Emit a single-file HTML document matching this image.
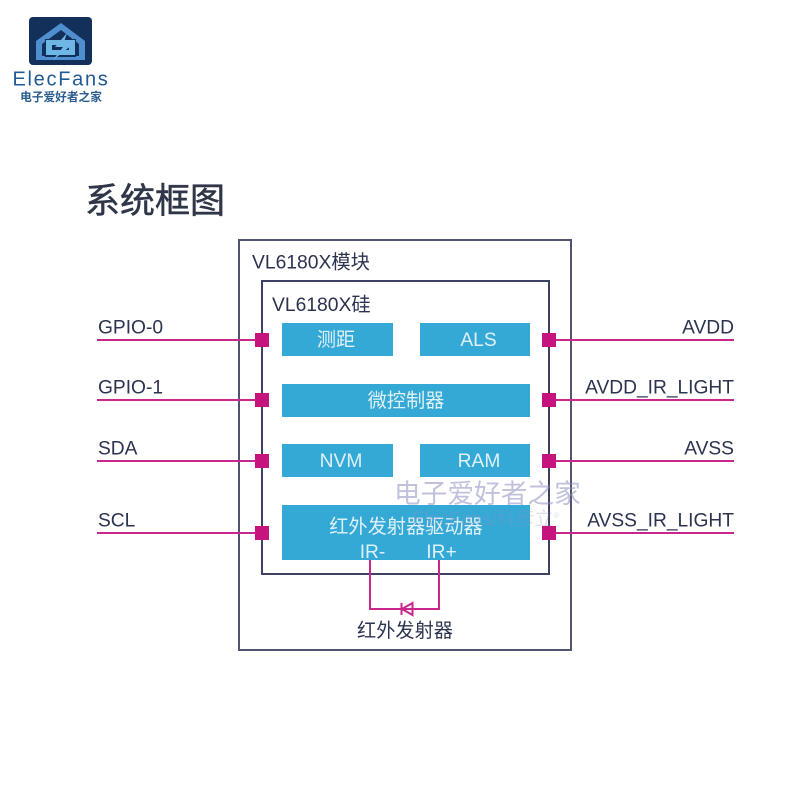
<!DOCTYPE html>
<html><head><meta charset="utf-8"><style>
html,body{margin:0;padding:0;background:#fff;width:800px;height:800px;overflow:hidden}
text{font-family:"Liberation Sans","Noto Sans CJK SC",sans-serif}
</style></head><body>
<svg width="800" height="800" viewBox="0 0 800 800" xmlns="http://www.w3.org/2000/svg">
<rect width="800" height="800" fill="#fff"/>
<!-- logo -->
<rect x="29" y="17" width="63" height="48" rx="4" fill="#12305a"/>
<path d="M61 23 L85 41 V60 H36 V41 Z M61 30 L42 44 V56 H79 V44 Z" fill="#4f8fd0" fill-rule="evenodd"/>
<path d="M45 39 H76 V57 H45 Z" fill="#12305a"/>
<path d="M46 40 H75 V55 H46 Z M52 45 V50 H69 V45 Z" fill="#6db6e6" fill-rule="evenodd"/>
<path d="M67 33 L55 47 H63 L53 60 L72 45 H63 Z" fill="#6db6e6"/>
<text x="61" y="85.500" text-anchor="middle" font-size="20" letter-spacing="1.700" fill="#1f5a94">ElecFans</text>
<text x="61" y="101" text-anchor="middle" font-size="11.700" font-weight="700" fill="#2b5c8f">电子爱好者之家</text>
<!-- title -->
<text x="85" y="213" font-size="35" fill="#2f3648" stroke="#2f3648" stroke-width="0.500">系统框图</text>
<!-- frames -->
<rect x="239" y="240" width="332" height="410" fill="#fff" stroke="#50546f" stroke-width="2"/>
<rect x="262" y="281" width="287" height="293" fill="none" stroke="#3d4162" stroke-width="2"/>
<text x="252" y="268.500" font-size="19.300" fill="#2c3350">VL6180X模块</text>
<text x="272" y="311" font-size="19.300" fill="#2c3350">VL6180X硅</text>
<!-- blocks -->
<g fill="#34a9d6">
<rect x="282" y="323" width="111" height="33"/>
<rect x="420" y="323" width="110" height="33"/>
<rect x="282" y="384" width="248" height="33"/>
<rect x="282" y="444" width="111" height="33"/>
<rect x="420" y="444" width="110" height="33"/>
<rect x="282" y="505" width="248" height="55"/>
</g>
<g fill="#dff1f8" font-size="19.200" text-anchor="middle">
<text x="336" y="346">测距</text>
<text x="478.500" y="346">ALS</text>
<text x="406" y="407">微控制器</text>
<text x="341" y="467">NVM</text>
<text x="479" y="467">RAM</text>
<text x="406" y="533">红外发射器驱动器</text>
<text x="372.500" y="558">IR-</text>
<text x="441.500" y="558">IR+</text>
</g>
<!-- pin lines -->
<g stroke="#c8288c" stroke-width="2" fill="none">
<path d="M97 340H256M97 400H256M97 461H256M97 533H256"/>
<path d="M554 340H734M554 400H734M554 461H734M554 533H734"/>
<path d="M370 560V609H439V560"/>
<path d="M401.500 603V615M412.500 603V615L402 609Z"/>
</g>
<!-- pins -->
<g fill="#c6147e">
<rect x="255" y="333" width="14" height="14"/>
<rect x="255" y="393" width="14" height="14"/>
<rect x="255" y="454" width="14" height="14"/>
<rect x="255" y="526" width="14" height="14"/>
<rect x="542" y="333" width="14" height="14"/>
<rect x="542" y="393" width="14" height="14"/>
<rect x="542" y="454" width="14" height="14"/>
<rect x="542" y="526" width="14" height="14"/>
</g>
<!-- pin labels -->
<g fill="#2c3350" font-size="19.200">
<text x="98" y="333.500">GPIO-0</text>
<text x="98" y="393.500">GPIO-1</text>
<text x="98" y="454.500">SDA</text>
<text x="98" y="526.500">SCL</text>
<g text-anchor="end">
<text x="734" y="333.500">AVDD</text>
<text x="734" y="393.500">AVDD_IR_LIGHT</text>
<text x="734" y="454.500">AVSS</text>
<text x="734" y="526.500">AVSS_IR_LIGHT</text>
</g>
</g>
<text x="405" y="637" text-anchor="middle" font-size="19.200" fill="#2c3350">红外发射器</text>
<!-- watermark -->
<text x="394" y="503" font-size="26.700" fill="#8d8fc0" fill-opacity="0.55">电子爱好者之家</text>
<text x="412" y="525" font-size="19" fill="#8d8fc0" fill-opacity="0.3">ElecFans/科彦立<tspan font-size="8" dy="-7">®</tspan></text>
</svg>
</body></html>
